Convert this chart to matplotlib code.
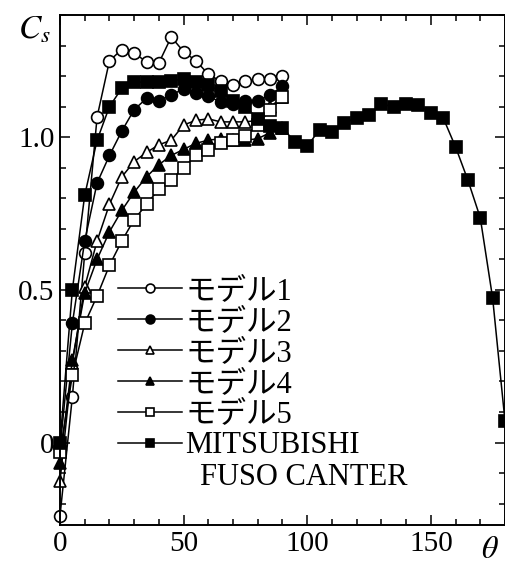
import numpy as np
import matplotlib.pyplot as plt
from matplotlib.ticker import MultipleLocator

plt.rcParams["font.family"] = ["Liberation Serif", "Noto Sans CJK JP"]
plt.rcParams["mathtext.fontset"] = "stix"

# 模型風洞試験 (0-90 deg) と実車 (0-180 deg) の横力係数
theta_model = np.arange(0, 95, 5)
theta_truck = np.arange(0, 185, 5)

cs_model1 = [-0.24, 0.15, 0.62, 1.066, 1.25, 1.287, 1.276, 1.246, 1.243, 1.328,
             1.28, 1.25, 1.206, 1.183, 1.17, 1.183, 1.19, 1.19, 1.20]
cs_model2 = [-0.02, 0.39, 0.66, 0.85, 0.94, 1.02, 1.09, 1.127, 1.12, 1.137,
             1.159, 1.145, 1.134, 1.115, 1.107, 1.12, 1.12, 1.137, 1.167]
cs_model3 = [-0.126, 0.26, 0.51, 0.66, 0.78, 0.87, 0.92, 0.95, 0.975, 0.99,
             1.04, 1.055, 1.06, 1.05, 1.05, 1.05, 1.055, 1.10, 1.13]
cs_model4 = [-0.066, 0.27, 0.49, 0.60, 0.69, 0.76, 0.82, 0.87, 0.91, 0.94,
             0.96, 0.98, 0.99, 0.995, 0.99, 0.99, 0.995, 1.015, 1.03]
cs_model5 = [-0.03, 0.22, 0.39, 0.48, 0.58, 0.66, 0.73, 0.78, 0.83, 0.86,
             0.90, 0.94, 0.957, 0.98, 0.99, 1.005, 1.04, 1.09, 1.13]
cs_truck = [0.0, 0.50, 0.81, 0.99, 1.10, 1.16, 1.18, 1.18, 1.18, 1.185,
            1.19, 1.18, 1.17, 1.15, 1.12, 1.10, 1.06, 1.035, 1.03, 0.985,
            0.97, 1.025, 1.017, 1.047, 1.064, 1.072, 1.108, 1.10, 1.108, 1.105,
            1.08, 1.063, 0.968, 0.859, 0.736, 0.473, 0.07]

labels = ["モデル1", "モデル2", "モデル3", "モデル4", "モデル5", "MITSUBISHI"]

fig = plt.figure(figsize=(5.06, 5.66), dpi=100)
ax = fig.add_axes([60 / 506, 41 / 566, 445 / 506, 510 / 566])

common = dict(color="black", lw=1.1, ms=8.5, mew=1.2, clip_on=False)
ax.plot(theta_model, cs_model1, marker="o", mfc="white", mec="black", label=labels[0], **common)
ax.plot(theta_model, cs_model2, marker="o", mfc="black", mec="black", label=labels[1], **common)
ax.plot(theta_model, cs_model3, marker="^", mfc="white", mec="black", label=labels[2], **common)
ax.plot(theta_model, cs_model4, marker="^", mfc="black", mec="black", label=labels[3], **common)
ax.plot(theta_model, cs_model5, marker="s", mfc="white", mec="black", label=labels[4], **common)
ax.plot(theta_truck, cs_truck, marker="s", mfc="black", mec="black", label=labels[5], **common)

ax.set_xlim(0, 180)
ax.set_ylim(-0.27, 1.40)
ax.xaxis.set_major_locator(MultipleLocator(50))
ax.xaxis.set_minor_locator(MultipleLocator(10))
ax.yaxis.set_minor_locator(MultipleLocator(0.1))
ax.set_yticks([0, 0.5, 1.0])
ax.set_yticklabels(["0", "0.5", "1.0"])
ax.tick_params(which="both", direction="in", top=True, right=True, labelsize=21, width=1.1)
ax.tick_params(which="major", length=7, pad=4)
ax.tick_params(which="minor", length=4)
for sp in ax.spines.values():
    sp.set_linewidth(1.4)

ax.text(-0.02, 1.0, r"$C_s$", transform=ax.transAxes, fontsize=24,
        ha="right", va="top")
ax.text(0.965, -0.022, r"$\theta$", transform=ax.transAxes, fontsize=23,
        ha="center", va="top")

leg = ax.legend(loc="upper left", bbox_to_anchor=(0.13, 0.486), frameon=False,
                fontsize=22, handlelength=2.1, handletextpad=0.1,
                labelspacing=0.06, markerscale=0.75, borderpad=0,
                borderaxespad=0)
# 二行目の車名は凡例の下に添える
ax.text(0.315, 0.094, "FUSO CANTER", transform=ax.transAxes, fontsize=22,
        ha="left", va="center")

fig.savefig("out.png", dpi=100)
